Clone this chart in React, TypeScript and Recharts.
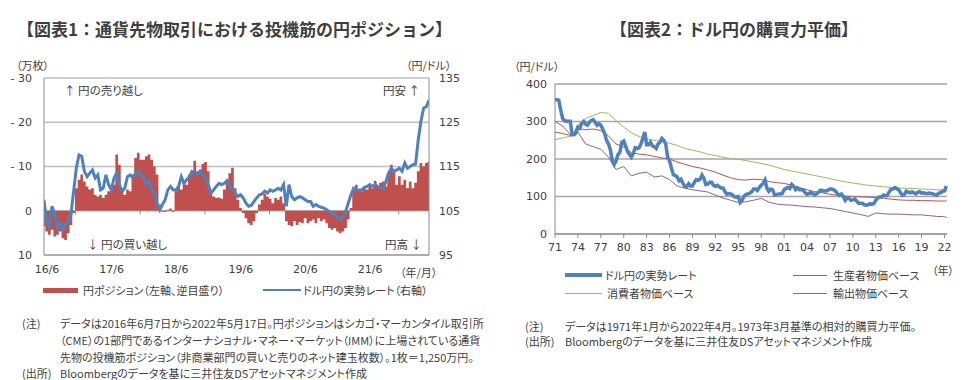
import React from 'react';
import {
  ComposedChart,
  LineChart,
  Line,
  Area,
  XAxis,
  YAxis,
  CartesianGrid,
  ReferenceLine,
} from 'recharts';

const JP = '"Noto Sans CJK JP", "Noto Sans", sans-serif';
const NUM = '"DejaVu Sans", "Noto Sans CJK JP", sans-serif';

// ---------- Chart 1: IMM yen position (semi-monthly, 2016/6/7 - 2022/5/17) ----------
const posStart = 2016.43;
const posStep = 1 / 24;
const yenPosition = [
  3.5, 4.7, 5.4, 4.3, 5.8, 5.4, 4.7, 6.2, 6.6, 5.1, 3.2, 0.5,
  -5.1, -7.0, -8.2, -6.6, -5.5, -4.8, -5.1, -3.6, -3.2, -3.6, -2.9, -3.6,
  -4.4, -4.8, -5.9, -12.7, -10.4, -5.1, -3.6, -4.8, -4.4, -8.2, -11.9, -13.1,
  -11.5, -11.5, -12.3, -12.7, -11.5, -10.0, -8.2, -1.4, 0.2, 0.3, -0.2, -0.5,
  0.3, -4.4, -5.5, -4.8, -6.6, -5.9, -8.2, -8.9, -11.3, -8.9, -9.3, -10.6,
  -11.0, -8.9, -4.4, -3.2, -2.9, -3.0, -2.7, -4.8, -6.6, -8.5, -9.7, -5.1,
  -2.5, -0.6, 0.5, 1.7, 2.8, 3.2, 2.4, 0.5, -1.4, -2.5, -3.8, -3.2,
  -2.7, -1.7, -2.9, -2.5, -3.2, -1.7, 2.4, 3.2, 3.5, 2.4, 3.2, 2.6,
  2.8, 1.7, 2.8, 2.4, 2.0, 2.8, 1.7, 2.4, 2.0, 2.8, 3.9, 4.3,
  3.9, 4.7, 5.1, 4.7, 3.9, 2.0, -0.6, -5.1, -5.9, -4.8, -4.4, -5.1,
  -4.8, -5.9, -5.1, -6.8, -5.5, -6.3, -6.6, -5.5, -8.2, -10.4, -9.3, -5.9,
  -7.8, -5.9, -7.0, -5.1, -6.6, -5.1, -6.3, -8.9, -10.8, -10.0, -10.8, -11.0,
];
const usdJpyRate = [
  107.5, 102.2, 101.5, 106.0, 104.1, 101.1, 102.2, 100.7, 101.8, 102.6, 104.1, 109.4,
  114.6, 117.6, 117.3, 113.9, 112.7, 113.5, 114.2, 112.4, 113.1, 109.7, 110.1, 113.1,
  110.9, 109.7, 112.4, 113.5, 110.9, 109.4, 110.1, 112.7, 113.1, 112.4, 113.5, 113.9,
  113.1, 112.7, 110.9, 111.6, 109.7, 109.0, 106.7, 105.2, 106.4, 107.5, 109.7, 110.5,
  109.7, 109.7, 110.5, 112.7, 111.2, 112.0, 112.7, 113.9, 113.5, 113.1, 113.9, 113.1,
  112.4, 110.9, 109.0, 109.7, 110.5, 111.2, 110.9, 111.2, 111.8, 110.5, 110.1, 109.0,
  108.2, 108.6, 107.9, 106.7, 106.0, 106.2, 107.1, 107.9, 108.6, 108.8, 109.4, 109.0,
  109.7, 109.4, 109.7, 110.1, 109.7, 110.9, 106.0, 110.9, 108.2, 107.5, 107.9, 108.2,
  107.9, 107.5, 107.1, 107.1, 106.0, 106.4, 106.0, 105.8, 105.6, 105.2, 104.8, 104.5,
  104.1, 103.3, 103.0, 103.7, 104.8, 106.7, 108.6, 110.1, 109.7, 109.7, 109.7, 110.3,
  110.5, 110.9, 110.5, 110.9, 110.5, 110.1, 110.0, 111.6, 113.5, 114.6, 113.9, 114.2,
  114.6, 113.9, 115.8, 114.6, 115.0, 115.4, 115.5, 121.0, 125.2, 128.2, 128.5, 130.0,
];
const posXTicks = [2016.43, 2017.43, 2018.43, 2019.43, 2020.43, 2021.43];
const posXTickLabels = ['16/6', '17/6', '18/6', '19/6', '20/6', '21/6'];
const posDecTicks = [2016.92, 2017.92, 2018.92, 2019.92, 2020.92, 2021.92];
const posLeftTicks = [-30, -20, -10, 0, 10];
const rateRightTicks = [95, 105, 115, 125, 135];

const chart1Data = yenPosition.map((p, i) => ({
  t: posStart + i * posStep,
  pos: p,
  rate: usdJpyRate[i],
}));

// ---------- Chart 2: USD/JPY PPP ----------
const actualStart = 1971;
const actualQuarterly = [
  358, 358, 357, 330,
  308, 302, 301, 301,
  301, 265, 265, 270,
  285, 282, 295, 300,
  293, 290, 298, 303,
  305, 298, 290, 294,
  290, 280, 268, 250,
  240, 225, 195, 185,
  195, 212, 218, 245,
  248, 235, 220, 212,
  205, 215, 230, 228,
  230, 240, 255, 272,
  238, 238, 245, 235,
  233, 228, 240, 245,
  255, 250, 240, 205,
  195, 175, 158, 156,
  152, 142, 146, 135,
  127, 126, 134, 128,
  128, 138, 145, 143,
  146, 157, 148, 132,
  133, 138, 138, 130,
  127, 130, 126, 123,
  123, 113, 106, 108,
  107, 104, 99, 98,
  100, 84, 90, 101,
  105, 107, 109, 112,
  120, 120, 116, 124,
  130, 135, 144, 122,
  114, 120, 118, 104,
  105, 107, 107, 108,
  118, 122, 124, 121,
  132, 127, 118, 123,
  118, 118, 118, 110,
  106, 108, 110, 108,
  104, 107, 111, 117,
  116, 115, 115, 117,
  120, 120, 118, 114,
  107, 103, 107, 100,
  90, 96, 95, 90,
  91, 93, 88, 82,
  82, 82, 78, 77,
  78, 81, 79, 81,
  90, 96, 99, 99,
  104, 102, 103, 112,
  119, 120, 124, 121,
  118, 110, 103, 105,
  114, 112, 110, 112,
  110, 107, 111, 113,
  109, 110, 108, 108,
  109, 108, 107, 105,
  104, 109, 110, 114,
  115, 128,
];
const pppYears = [
  1971, 1972, 1973.2,
  1974, 1975, 1976, 1977, 1978, 1979,
  1980, 1981, 1982, 1983, 1984, 1985, 1986, 1987, 1988, 1989,
  1990, 1991, 1992, 1993, 1994, 1995, 1996, 1997, 1998, 1999,
  2000, 2001, 2002, 2003, 2004, 2005, 2006, 2007, 2008, 2009,
  2010, 2011, 2012, 2013, 2014, 2015, 2016, 2017, 2018, 2019,
  2020, 2021, 2022, 2022.3,
];
const ppiBased = [
  272, 268, 262,
  282, 278, 280, 276, 262, 240,
  232, 217, 213, 211, 207, 203, 200, 192, 186, 180,
  176, 171, 165, 157, 150, 145, 144, 146, 145, 140,
  137, 135, 130, 124, 118, 113, 110, 106, 103, 101,
  100, 99, 98, 97, 96, 93, 91, 90, 90, 89,
  89, 88, 88, 88,
];
const cpiBased = [
  252, 256, 262,
  292, 308, 316, 324, 322, 302,
  285, 270, 260, 254, 250, 246, 242, 236, 228, 224,
  219, 213, 209, 205, 201, 199, 196, 192, 188, 184,
  178, 172, 168, 164, 160, 156, 152, 148, 143, 139,
  136, 133, 130, 128, 126, 124, 123, 122, 121, 120,
  119, 118, 117, 116,
];
const exportBased = [
  300, 288, 262,
  272, 240, 233, 226, 205, 172,
  180, 155, 162, 165, 152, 155, 145, 128, 122, 118,
  115, 112, 104, 96, 90, 84, 86, 90, 95, 85,
  80, 78, 77, 75, 73, 72, 70, 68, 64, 60,
  56, 52, 47, 56, 54, 53, 53, 52, 51, 51,
  49, 47, 46, 44,
];
const pppXTicks = [1971, 1974, 1977, 1980, 1983, 1986, 1989, 1992, 1995, 1998, 2001, 2004, 2007, 2010, 2013, 2016, 2019, 2022];
const pppYTicks = [0, 100, 200, 300, 400];

const actualData = actualQuarterly.map((v, i) => ({ t: actualStart + i / 4, v }));
const ppiData = pppYears.map((t, i) => ({ t, v: ppiBased[i] }));
const cpiData = pppYears.map((t, i) => ({ t, v: cpiBased[i] }));
const exportData = pppYears.map((t, i) => ({ t, v: exportBased[i] }));

const RED = '#C0504D';
const BLUE = '#4F81BD';
const GREEN = '#9BBB59';
const PURPLE = '#8064A2';
const AXIS = '#8c8c8c';
const TXT = '#404040';

const tickStyle = { fontSize: 11, fill: TXT, fontFamily: NUM };

const abs = (x: number, y: number, extra: React.CSSProperties = {}): React.CSSProperties => ({
  position: 'absolute',
  left: x,
  top: y,
  whiteSpace: 'nowrap',
  fontFamily: JP,
  fontFeatureSettings: '"palt"',
  fontSize: 11,
  color: TXT,
  lineHeight: '13px',
  ...extra,
});

function Chart1() {
  return (
    <div style={{ position: 'absolute', left: 0, top: 0, width: 490, height: 300 }}>
      <ComposedChart width={490} height={300} data={chart1Data} margin={{ top: 78, right: 0, bottom: 25, left: 0 }}>
        <CartesianGrid yAxisId="pos" vertical={false} stroke="#bfbfbf" strokeWidth={1.6} />
        <XAxis
          dataKey="t"
          type="number"
          domain={[posStart, posStart + 143 * posStep]}
          ticks={posXTicks}
          tickFormatter={(v: number) => posXTickLabels[posXTicks.indexOf(v)] ?? ''}
          tickLine={false}
          tickSize={0}
          tickMargin={10}
          height={20}
          axisLine={{ stroke: AXIS }}
          tick={{ ...tickStyle, dx: 3 }}
          allowDataOverflow
        />
        <YAxis
          yAxisId="pos"
          orientation="left"
          width={44}
          domain={[-30, 10]}
          reversed
          ticks={posLeftTicks}
          tickFormatter={(v: number) => (v < 0 ? `- ${-v}` : `${v}`)}
          tickLine={false}
          tickSize={0}
          tickMargin={12}
          axisLine={{ stroke: AXIS }}
          tick={tickStyle}
          interval={0}
        />
        <YAxis
          yAxisId="rate"
          orientation="right"
          width={61}
          domain={[95, 135]}
          ticks={rateRightTicks}
          tickLine={false}
          tickSize={0}
          tickMargin={10}
          axisLine={{ stroke: AXIS }}
          tick={tickStyle}
          interval={0}
        />
        <Area
          yAxisId="pos"
          dataKey="pos"
          type="step"
          fill={RED}
          fillOpacity={1}
          stroke="none"
          baseValue={0}
          isAnimationActive={false}
        />
        {posDecTicks.map((t) => (
          <ReferenceLine
            key={t}
            yAxisId="pos"
            segment={[{ x: t, y: 0 }, { x: t, y: 0.8 }]}
            stroke={AXIS}
            ifOverflow="visible"
          />
        ))}
        <Line
          yAxisId="rate"
          dataKey="rate"
          type="linear"
          stroke={BLUE}
          strokeWidth={3}
          dot={false}
          isAnimationActive={false}
        />
      </ComposedChart>
    </div>
  );
}

function Chart2() {
  return (
    <div style={{ position: 'absolute', left: 490, top: 0, width: 483, height: 300 }}>
      <LineChart width={483} height={300} margin={{ top: 84, right: 26, bottom: 46, left: 0 }}>
        <CartesianGrid vertical={false} stroke="#a6a6a6" strokeWidth={1.4} />
        <XAxis
          dataKey="t"
          type="number"
          domain={[1971, 2022.33]}
          ticks={pppXTicks}
          tickFormatter={(v: number) => String(v).slice(2)}
          tickSize={4}
          tickMargin={5}
          tickLine={{ stroke: AXIS }}
          height={20}
          axisLine={{ stroke: AXIS }}
          tick={tickStyle}
          interval={0}
          allowDuplicatedCategory={false}
        />
        <YAxis
          width={65}
          domain={[0, 400]}
          ticks={pppYTicks}
          tickLine={false}
          tickSize={0}
          tickMargin={8}
          axisLine={{ stroke: AXIS }}
          tick={tickStyle}
          interval={0}
        />
        <Line data={cpiData} dataKey="v" stroke={GREEN} strokeWidth={1} dot={false} isAnimationActive={false} />
        <Line data={ppiData} dataKey="v" stroke={RED} strokeWidth={1} dot={false} isAnimationActive={false} />
        <Line data={exportData} dataKey="v" stroke={PURPLE} strokeWidth={1} dot={false} isAnimationActive={false} />
        <Line data={actualData} dataKey="v" stroke={BLUE} strokeWidth={3.5} dot={false} isAnimationActive={false} />
      </LineChart>
    </div>
  );
}

function LegendLine({ x, y, w, h, color }: { x: number; y: number; w: number; h: number; color: string }) {
  return <div style={{ position: 'absolute', left: x, top: y - h / 2, width: w, height: h, background: color }} />;
}

export default function App() {
  const titleStyle = (x: number): React.CSSProperties =>
    abs(x, 18, { fontSize: 17, fontWeight: 700, color: '#3f3f3f', lineHeight: '22px', fontFeatureSettings: 'normal' });
  return (
    <div style={{ position: 'absolute', left: 0, top: 0, width: 973, height: 380, background: '#fff', overflow: 'hidden' }}>
      <div style={titleStyle(17)}>【図表1：通貨先物取引における投機筋の円ポジション】</div>
      <div style={titleStyle(610)}>【図表2：ドル円の購買力平価】</div>

      <Chart1 />
      <Chart2 />

      {/* chart 1 labels */}
      <div style={abs(16, 59, { lineHeight: '12px' })}>（万枚）</div>
      <div style={abs(406, 59, { lineHeight: '12px' })}>（円/ドル）</div>
      <div style={abs(64, 84, { fontSize: 11.5 })}>↑ 円の売り越し</div>
      <div style={abs(87, 238, { fontSize: 11.5 })}>↓ 円の買い越し</div>
      <div style={abs(383, 84, { fontSize: 11.5 })}>円安 ↑</div>
      <div style={abs(385, 238, { fontSize: 11.5 })}>円高 ↓</div>
      <div style={abs(400, 266)}>（年/月）</div>

      <LegendLine x={43} y={290} w={35} h={5} color={RED} />
      <div style={abs(83, 284)}>円ポジション（左軸、逆目盛り）</div>
      <LegendLine x={263} y={290} w={38} h={2.5} color={BLUE} />
      <div style={abs(303, 284)}>ドル円の実勢レート（右軸）</div>

      <div style={abs(22, 317)}>(注)</div>
      <div style={abs(60, 317)}>データは2016年6月7日から2022年5月17日。円ポジションはシカゴ・マーカンタイル取引所</div>
      <div style={abs(60, 334)}>（CME）の1部門であるインターナショナル・マネー・マーケット（IMM）に上場されている通貨</div>
      <div style={abs(60, 351)}>先物の投機筋ポジション（非商業部門の買いと売りのネット建玉枚数）。1枚＝1,250万円。</div>
      <div style={abs(22, 367)}>(出所)</div>
      <div style={abs(60, 367)}>Bloombergのデータを基に三井住友DSアセットマネジメント作成</div>

      {/* chart 2 labels */}
      <div style={abs(514, 60, { lineHeight: '12px' })}>（円/ドル）</div>
      <div style={abs(932, 264)}>（年）</div>

      <LegendLine x={565} y={275} w={37} h={3.5} color={BLUE} />
      <div style={abs(605, 269)}>ドル円の実勢レート</div>
      <LegendLine x={793} y={275} w={34} h={1} color={RED} />
      <div style={abs(833, 269)}>生産者物価ベース</div>
      <LegendLine x={565} y={293} w={37} h={1} color={GREEN} />
      <div style={abs(607, 287)}>消費者物価ベース</div>
      <LegendLine x={793} y={293} w={34} h={1} color={PURPLE} />
      <div style={abs(833, 287)}>輸出物価ベース</div>

      <div style={abs(525, 320)}>(注)</div>
      <div style={abs(565, 320)}>データは1971年1月から2022年4月。1973年3月基準の相対的購買力平価。</div>
      <div style={abs(525, 335)}>(出所)</div>
      <div style={abs(565, 335)}>Bloombergのデータを基に三井住友DSアセットマネジメント作成</div>
    </div>
  );
}
